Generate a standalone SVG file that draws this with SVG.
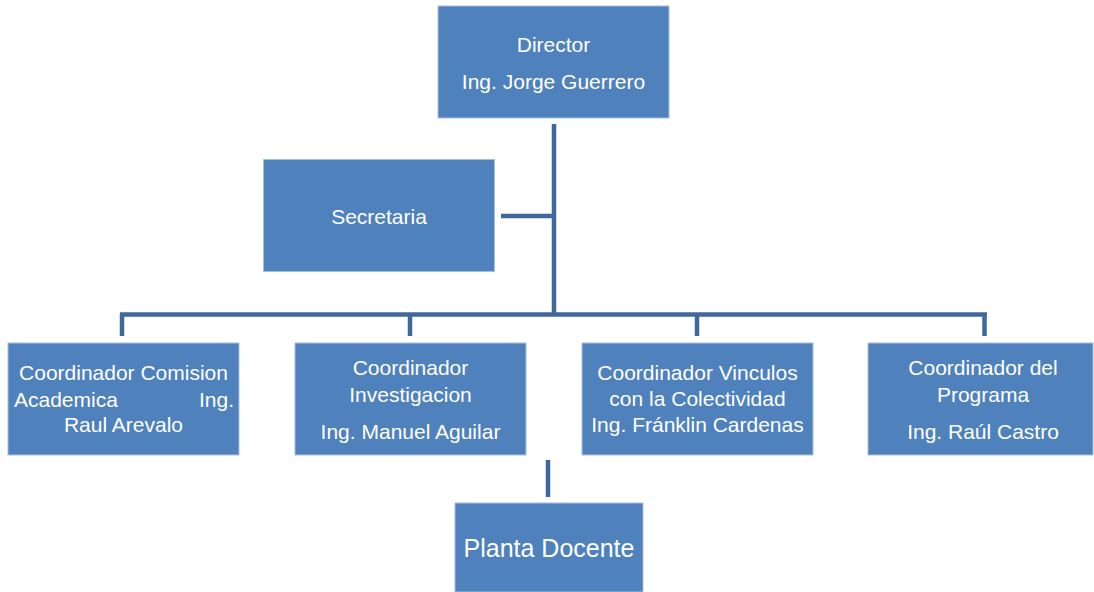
<svg xmlns="http://www.w3.org/2000/svg" width="1094" height="592" viewBox="0 0 1094 592">
<style>
.box{fill:#4F81BD;stroke:#A7BFDE;stroke-width:1}
.t{font-family:"Liberation Sans",Arial,sans-serif;font-size:21px;fill:#FFFFFF;text-anchor:middle;dominant-baseline:central}
.c{stroke:#41689C;stroke-width:4.5;fill:none}
</style>
<rect width="1094" height="592" fill="#FFFFFF"/>
<g id="connectors">
<line class="c" x1="554" y1="124" x2="554" y2="316"/>
<line class="c" x1="501" y1="216" x2="554" y2="216"/>
<line class="c" x1="120" y1="314.5" x2="987" y2="314.5"/>
<line class="c" x1="122" y1="314" x2="122" y2="336"/>
<line class="c" x1="410" y1="314" x2="410" y2="336"/>
<line class="c" x1="697" y1="314" x2="697" y2="336"/>
<line class="c" x1="984.5" y1="314" x2="984.5" y2="336"/>
<line class="c" x1="548" y1="460" x2="548" y2="497"/>
</g>
<g id="director">
<rect class="box" x="438" y="6" width="231" height="112"/>
<text class="t" x="553.5" y="44">Director</text>
<text class="t" x="553.5" y="81">Ing. Jorge Guerrero</text>
</g>
<g id="secretaria">
<rect class="box" x="263.5" y="159.5" width="231" height="112"/>
<text class="t" x="379" y="216">Secretaria</text>
</g>
<g id="coord-comision">
<rect class="box" x="8" y="343" width="231" height="112"/>
<text class="t" x="123.5" y="372">Coordinador Comision</text>
<text class="t" x="14" y="399" style="text-anchor:start">Academica</text>
<text class="t" x="234" y="399" style="text-anchor:end">Ing.</text>
<text class="t" x="123.5" y="424">Raul Arevalo</text>
</g>
<g id="coord-investigacion">
<rect class="box" x="295" y="343" width="231" height="112"/>
<text class="t" x="410.5" y="367">Coordinador</text>
<text class="t" x="410.5" y="394">Investigacion</text>
<text class="t" x="410.5" y="431">Ing. Manuel Aguilar</text>
</g>
<g id="coord-vinculos">
<rect class="box" x="582" y="343" width="231" height="112"/>
<text class="t" x="697.5" y="372">Coordinador Vinculos</text>
<text class="t" x="697.5" y="398">con la Colectividad</text>
<text class="t" x="697.5" y="424">Ing. Fránklin Cardenas</text>
</g>
<g id="coord-programa">
<rect class="box" x="868" y="343" width="225" height="112"/>
<text class="t" x="983" y="367">Coordinador del</text>
<text class="t" x="983" y="394">Programa</text>
<text class="t" x="983" y="431">Ing. Raúl Castro</text>
</g>
<g id="planta-docente">
<rect class="box" x="455" y="503" width="188" height="89"/>
<text class="t" x="549" y="548" style="font-size:25px">Planta Docente</text>
</g>
</svg>
